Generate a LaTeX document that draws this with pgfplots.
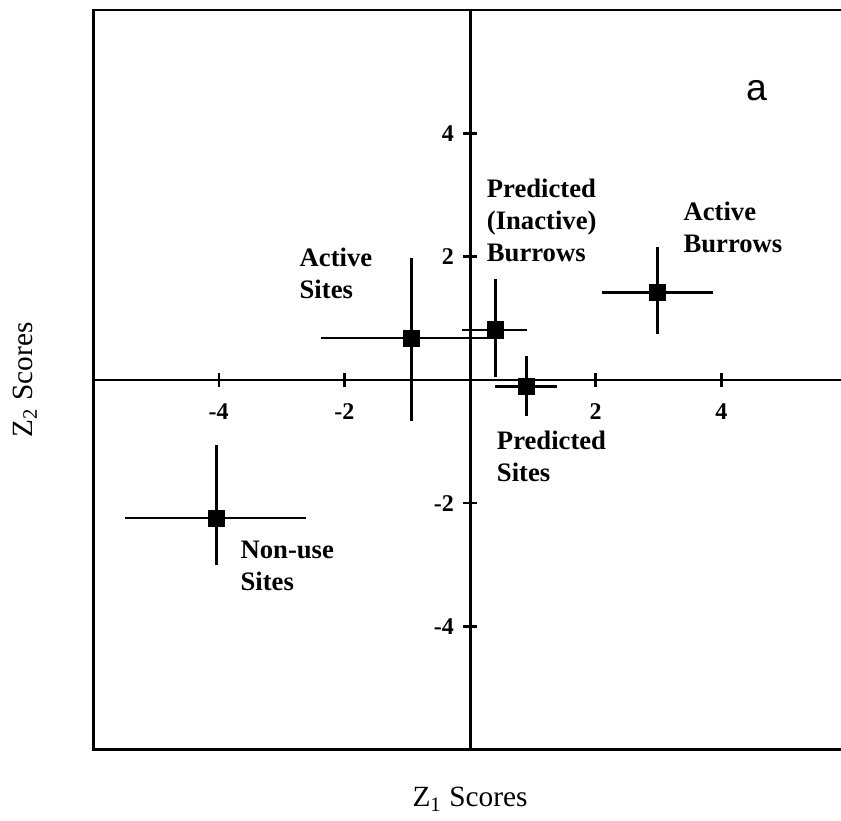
\documentclass[border=0pt]{standalone}
\usepackage{pgfplots}
\pgfplotsset{compat=1.18}
\usepackage{fontspec}
\setmainfont{Liberation Serif}
\newfontfamily\arialfont{Liberation Sans}

\begin{document}
\begin{tikzpicture}
\begin{axis}[
  scale only axis, width=282.75pt, height=277.5pt,
  xmin=-6, xmax=6, ymin=-6, ymax=6,
  axis lines=middle,
  axis line style={-, line width=1.1pt, black},
  xtick={-4,-2,2,4}, ytick={-4,-2,2,4},
  tick align=center, major tick length=5pt,
  tick style={line width=0.9pt, black},
  /pgf/number format/assume math mode=true,
  ticklabel style={font=\bfseries\small},
  xticklabel style={yshift=-3pt},
  yticklabel style={xshift=0pt},
  clip=false,
]
\coordinate (sw) at (rel axis cs:0,0);
\draw[line width=1.1pt] (rel axis cs:1,1) -- (rel axis cs:0,1) -- (rel axis cs:0,0) -- (rel axis cs:1,0);

\addplot[only marks, mark=square*, mark size=3pt, black,
  error bars/.cd, x dir=both, y dir=both, x explicit, y explicit,
  error mark=none, error bar style={line width=1.05pt, black}]
  table[x=x, y=y, x error plus=exp, x error minus=exm, y error plus=eyp, y error minus=eym] {
x      y      exp   exm   eyp   eym
-4.04  -2.24  1.43  1.45  1.18  0.76
-0.93   0.68  1.22  1.44  1.30  1.34
 0.40   0.81  0.50  0.53  0.82  0.76
 0.90  -0.10  0.49  0.50  0.49  0.48
 2.98   1.42  0.88  0.88  0.73  0.68
};

\node[anchor=center, font=\arialfont\fontsize{14}{16}\selectfont] at (axis cs:4.56,4.69) {a};
\node[anchor=west, align=left, font=\bfseries, inner sep=0pt] at (axis cs:-2.72,1.73) {Active\\Sites};
\node[anchor=west, align=left, font=\bfseries, inner sep=0pt] at (axis cs:0.26,2.58) {Predicted\\(Inactive)\\Burrows};
\node[anchor=west, align=left, font=\bfseries, inner sep=0pt] at (axis cs:3.39,2.47) {Active\\Burrows};
\node[anchor=west, align=left, font=\bfseries, inner sep=0pt] at (axis cs:0.42,-1.24) {Predicted\\Sites};
\node[anchor=west, align=left, font=\bfseries, inner sep=0pt] at (axis cs:-3.66,-3.02) {Non-use\\Sites};

\node[font=\fontsize{11}{13}\selectfont] at ([yshift=-18.5pt]rel axis cs:0.5,0) {Z\textsubscript{1} Scores};
\node[font=\fontsize{11}{13}\selectfont, rotate=90] at ([xshift=-25.5pt]rel axis cs:0,0.5) {Z\textsubscript{2} Scores};
\end{axis}
\pgfresetboundingbox
\path[use as bounding box] ([shift={(-34.9pt,-26.6pt)}]sw) rectangle ([shift={(280.5pt,281.25pt)}]sw);
\end{tikzpicture}
\end{document}
